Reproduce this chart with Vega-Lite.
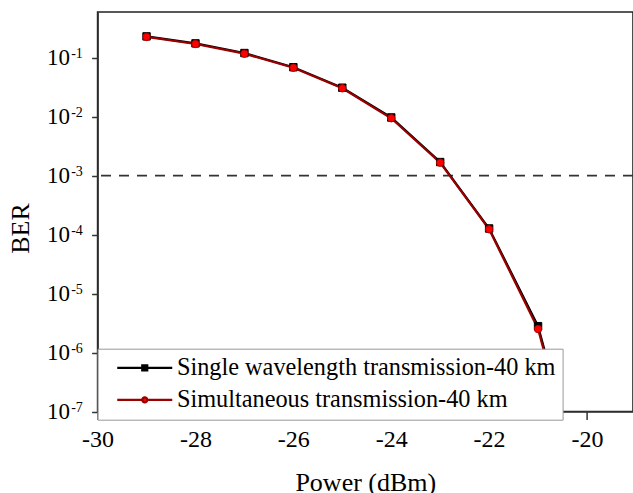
{
  "$schema": "https://vega.github.io/schema/vega-lite/v6.json",
  "width": 535.4,
  "height": 399.5,
  "autosize": {"type": "none"},
  "padding": {"left": 97.6, "top": 12, "right": 0, "bottom": 81.5},
  "background": "white",
  "datasets": {
    "main": [
      {"power": -29, "ber": 0.23, "series": "Single wavelength transmission-40 km"},
      {"power": -28, "ber": 0.175, "series": "Single wavelength transmission-40 km"},
      {"power": -27, "ber": 0.12, "series": "Single wavelength transmission-40 km"},
      {"power": -26, "ber": 0.069, "series": "Single wavelength transmission-40 km"},
      {"power": -25, "ber": 0.031, "series": "Single wavelength transmission-40 km"},
      {"power": -24, "ber": 0.0097, "series": "Single wavelength transmission-40 km"},
      {"power": -23, "ber": 0.0017, "series": "Single wavelength transmission-40 km"},
      {"power": -22, "ber": 0.000127, "series": "Single wavelength transmission-40 km"},
      {"power": -21, "ber": 0.0000028, "series": "Single wavelength transmission-40 km"},
      {"power": -20, "ber": 0.0000000024, "series": "Single wavelength transmission-40 km"},
      {"power": -29, "ber": 0.225, "series": "Simultaneous transmission-40 km"},
      {"power": -28, "ber": 0.171, "series": "Simultaneous transmission-40 km"},
      {"power": -27, "ber": 0.117, "series": "Simultaneous transmission-40 km"},
      {"power": -26, "ber": 0.0677, "series": "Simultaneous transmission-40 km"},
      {"power": -25, "ber": 0.0303, "series": "Simultaneous transmission-40 km"},
      {"power": -24, "ber": 0.0094, "series": "Simultaneous transmission-40 km"},
      {"power": -23, "ber": 0.00166, "series": "Simultaneous transmission-40 km"},
      {"power": -22, "ber": 0.000123, "series": "Simultaneous transmission-40 km"},
      {"power": -21, "ber": 0.0000025, "series": "Simultaneous transmission-40 km"},
      {"power": -20, "ber": 0.000000002, "series": "Simultaneous transmission-40 km"}
    ],
    "threshold": [{"ber": 0.001}]
  },
  "config": {
    "view": {"stroke": "#222", "strokeWidth": 1.6},
    "axis": {
      "grid": false,
      "labelFont": "Liberation Serif",
      "titleFont": "Liberation Serif",
      "labelColor": "#000",
      "titleColor": "#000",
      "titleFontWeight": "normal",
      "domainColor": "#333",
      "tickColor": "#333",
      "domainWidth": 1.5,
      "tickWidth": 1.5,
      "labelOverlap": false,
      "labelFlush": false
    }
  },
  "layer": [
    {
      "data": {"name": "threshold"},
      "mark": {"type": "rule", "strokeDash": [10, 8], "strokeWidth": 1.8, "color": "#333"},
      "encoding": {
        "y": {
          "field": "ber",
          "type": "quantitative",
          "scale": {"type": "log", "domain": [1e-7, 0.596], "nice": false},
          "axis": {
            "orient": "left",
            "values": [1e-7, 1e-6, 1e-5, 1e-4, 1e-3, 1e-2, 1e-1],
            "labelExpr": "'10'",
            "labelFont": "Liberation Serif",
            "labelFontSize": 23,
            "labelPadding": 22,
            "tickSize": 6,
            "title": "BER",
            "titleFontSize": 26,
            "titleX": -69.3,
            "titleY": 216,
            "titleAngle": -90,
            "titleBaseline": "alphabetic",
            "titleAlign": "center"
          }
        }
      }
    },
    {
      "data": {"name": "main"},
      "mark": {"type": "line", "strokeWidth": 2.2, "clip": true},
      "encoding": {
        "x": {
          "field": "power",
          "type": "quantitative",
          "scale": {"domain": [-30, -19.06], "nice": false, "zero": false},
          "axis": {
            "orient": "bottom",
            "values": [-30, -28, -26, -24, -22, -20],
            "labelExpr": "'-' + abs(datum.value)",
            "labelFont": "Liberation Serif",
            "tickSize": 8,
            "labelFontSize": 24,
            "labelPadding": 8,
            "title": "Power (dBm)",
            "titleFontSize": 26,
            "titlePadding": 18
          }
        },
        "y": {
          "field": "ber",
          "type": "quantitative",
          "scale": {"type": "log", "domain": [1e-7, 0.596], "nice": false},
          "axis": {
            "orient": "left",
            "values": [1e-7, 1e-6, 1e-5, 1e-4, 1e-3, 1e-2, 1e-1],
            "labelExpr": "'-' + round(-log(datum.value)/LN10)",
            "labelFont": "Liberation Serif",
            "labelFontSize": 14,
            "labelAlign": "left",
            "labelPadding": 20.9,
            "labelOffset": -4,
            "tickSize": 6,
            "tickColor": "transparent",
            "domain": false,
            "title": null
          }
        },
        "stroke": {
          "field": "series",
          "type": "nominal",
          "scale": {
            "domain": ["Single wavelength transmission-40 km", "Simultaneous transmission-40 km"],
            "range": ["#000000", "#990000"]
          },
          "legend": {
            "orient": "none",
            "legendX": 0,
            "legendY": 336.7,
            "title": null,
            "padding": 7,
            "strokeColor": "#999",
            "fillColor": "#ffffff",
            "labelFont": "Liberation Serif",
            "labelFontSize": 24.3,
            "labelColor": "#000",
            "labelLimit": 600,
            "symbolSize": 400,
            "symbolStrokeWidth": 2.2,
            "symbolOffset": 28,
            "labelOffset": 20,
            "rowPadding": 7,
            "encode": {
              "symbols": {
                "update": {
                  "shape": {"signal": "datum.value === 'Simultaneous transmission-40 km' ? 'M-2.75,0H-0.25M0.25,0H2.75M0.25,0A0.25,0.25,0,1,1,-0.25,0A0.25,0.25,0,1,1,0.25,0Z' : 'M-2.75,0H-0.25M0.25,0H2.75M-0.25,-0.25H0.25V0.25H-0.25Z'"},
                  "fill": {"signal": "datum.value === 'Simultaneous transmission-40 km' ? '#ff0000' : '#000000'"},
                  "stroke": {"signal": "datum.value === 'Simultaneous transmission-40 km' ? '#990000' : '#000000'"},
                  "strokeWidth": {"value": 2.2},
                  "size": {"value": 400}
                }
              }
            }
          }
        }
      }
    },
    {
      "data": {"name": "main"},
      "mark": {"type": "point", "filled": true, "size": 55, "strokeWidth": 1, "clip": true, "opacity": 1},
      "encoding": {
        "x": {
          "field": "power",
          "type": "quantitative",
          "scale": {"domain": [-30, -19.06], "nice": false, "zero": false},
          "axis": {
            "orient": "bottom",
            "values": [-29, -27, -25, -23, -21, -19],
            "tickSize": 4,
            "labels": false,
            "domain": false,
            "title": null
          }
        },
        "y": {
          "field": "ber",
          "type": "quantitative",
          "scale": {"type": "log", "domain": [1e-7, 0.596], "nice": false},
          "axis": null
        },
        "shape": {
          "condition": {"test": "datum.series === 'Simultaneous transmission-40 km'", "value": "circle"},
          "value": "square"
        },
        "fill": {
          "condition": {"test": "datum.series === 'Simultaneous transmission-40 km'", "value": "#ff0000"},
          "value": "#000000"
        },
        "stroke": {
          "condition": {"test": "datum.series === 'Simultaneous transmission-40 km'", "value": "#b00000"},
          "value": "#000000"
        }
      }
    }
  ],
  "resolve": {"axis": {"x": "independent", "y": "independent"}}
}
